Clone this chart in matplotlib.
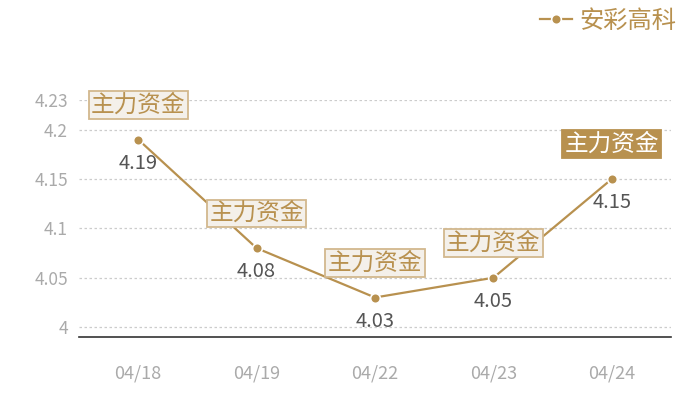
import matplotlib
matplotlib.use("Agg")
import matplotlib.pyplot as plt

plt.rcParams['font.family'] = ['Noto Sans CJK SC', 'DejaVu Sans']

# 数据
dates = ["04/18", "04/19", "04/22", "04/23", "04/24"]
prices = [4.19, 4.08, 4.03, 4.05, 4.15]
yticks = [4, 4.05, 4.1, 4.15, 4.2, 4.23]
ytick_labels = ["4", "4.05", "4.1", "4.15", "4.2", "4.23"]
tag_text = "主力资金"
series_name = "安彩高科"

gold = "#b8914f"
tag_fill = "#f4f0ea"
grey = "#aaaaaa"

fig = plt.figure(figsize=(7, 4), dpi=100)
ax = fig.add_axes([79 / 700, 63 / 400, 592 / 700, 237 / 400])

x = list(range(len(dates)))
line, = ax.plot(x, prices, color=gold, lw=1.6, marker="o", markersize=7,
                markerfacecolor=gold, markeredgecolor="white", markeredgewidth=1.2,
                zorder=3, label=series_name)

# 数值标签和主力资金标签
for i, (xi, yi) in enumerate(zip(x, prices)):
    ax.annotate(f"{yi:.2f}", (xi, yi), xytext=(0, -17), textcoords="offset points",
                ha="center", va="center", fontsize=14.5, color="#555555", zorder=5)
    last = i == len(x) - 1
    ax.annotate(tag_text, (xi, yi), xytext=(0, 25), textcoords="offset points",
                ha="center", va="center", fontsize=17,
                color="white" if last else gold, zorder=6,
                bbox=dict(boxstyle="square,pad=0.1",
                          fc=gold if last else tag_fill,
                          ec=gold if last else "#d2b88e", lw=1.3))

ax.set_xlim(-0.5, len(dates) - 0.5)
ax.set_ylim(3.99, 4.23)
ax.set_xticks(x)
ax.set_xticklabels(dates)
ax.set_yticks(yticks)
ax.set_yticklabels(ytick_labels)
ax.tick_params(axis="x", length=0, pad=20, labelsize=13, labelcolor=grey)
ax.tick_params(axis="y", length=0, pad=8, labelsize=12.5, labelcolor=grey)

ax.grid(axis="y", color="#cccccc", linestyle=(0, (2, 2)), lw=0.9)
ax.set_axisbelow(True)
for s in ["top", "right", "left"]:
    ax.spines[s].set_visible(False)
ax.spines["bottom"].set_color("#333333")
ax.spines["bottom"].set_linewidth(1.2)

leg = fig.legend(handles=[line], loc="upper right", bbox_to_anchor=(0.997, 1.035),
                 frameon=False, fontsize=17.5, handlelength=1.3, handletextpad=0.3,
                 labelcolor=gold)

fig.savefig("out.png", dpi=100)
